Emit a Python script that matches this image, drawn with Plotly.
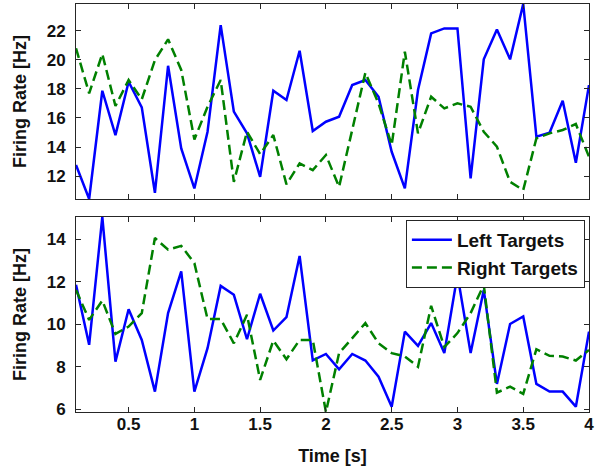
import plotly.graph_objects as go
from plotly.subplots import make_subplots

time_s = [round(0.1 * i, 1) for i in range(1, 41)]

top_left = [12.76, 10.42, 17.87, 14.82, 18.49, 16.73, 10.85, 19.59, 13.9, 11.15,
            15.05, 22.39, 16.43, 14.94, 11.95, 17.87, 17.23, 20.62, 15.1, 15.74,
            16.08, 18.26, 18.61, 17.46, 13.67, 11.15, 17.92, 21.82, 22.16, 22.16,
            11.84, 20.03, 22.09, 20.03, 23.84, 14.71, 14.98, 17.18, 12.92, 18.26]
top_right = [20.79, 17.69, 20.4, 16.82, 18.61, 17.28, 19.98, 21.41, 19.3, 14.52,
             16.77, 18.61, 11.6, 15.05, 13.51, 14.82, 11.43, 12.87, 12.41, 13.45,
             11.26, 15.3, 19.11, 17.0, 14.13, 20.56, 14.94, 17.46, 16.66, 17.0,
             16.77, 15.05, 14.02, 11.6, 11.04, 14.59, 14.94, 15.17, 15.58, 13.33]

bot_left = [11.85, 9.03, 15.04, 8.24, 10.7, 9.26, 6.83, 10.52, 12.48, 6.83,
            8.87, 11.8, 11.38, 9.29, 11.43, 9.7, 10.33, 13.21, 8.3, 8.6,
            7.88, 8.6, 8.29, 7.53, 6.12, 9.65, 8.98, 10.05, 8.64, 12.32,
            8.64, 11.61, 7.19, 10.01, 10.36, 7.19, 6.83, 6.83, 6.12, 9.65]
bot_right = [11.61, 10.2, 11.11, 9.54, 9.89, 10.52, 14.05, 13.5, 13.68, 12.87,
             10.24, 10.24, 9.1, 10.44, 7.38, 9.23, 8.35, 9.26, 9.26, 5.87,
             8.64, 9.34, 10.05, 9.1, 8.64, 8.48, 8.0, 10.86, 8.92, 9.58,
             10.52, 11.85, 6.78, 7.06, 6.72, 8.82, 8.51, 8.48, 8.29, 8.79]

top_yticks = [12, 14, 16, 18, 20, 22]
bot_yticks = [6, 8, 10, 12, 14]
x_ticks = [0.5, 1, 1.5, 2, 2.5, 3, 3.5, 4]
x_ticklabels = ["0.5", "1", "1.5", "2", "2.5", "3", "3.5", "4"]

BLUE = "#0000ff"
GREEN = "#008000"
FONT = "Liberation Sans, Arial, sans-serif"
TXT = "#111111"

fig = make_subplots(rows=2, cols=1, vertical_spacing=0.044)

fig.add_trace(go.Scatter(x=time_s, y=top_left, mode="lines", showlegend=False,
                         line=dict(color=BLUE, width=2.5)), row=1, col=1)
fig.add_trace(go.Scatter(x=time_s, y=top_right, mode="lines", showlegend=False,
                         line=dict(color=GREEN, width=2.5, dash="10px,5px")), row=1, col=1)
fig.add_trace(go.Scatter(x=time_s, y=bot_left, mode="lines", name="Left Targets",
                         line=dict(color=BLUE, width=2.5)), row=2, col=1)
fig.add_trace(go.Scatter(x=time_s, y=bot_right, mode="lines", name="Right Targets",
                         line=dict(color=GREEN, width=2.5, dash="10px,5px")), row=2, col=1)

axis_common = dict(showline=True, linecolor="#262626", linewidth=1, mirror="ticks",
                   ticks="inside", ticklen=5, tickcolor="#262626", showgrid=False,
                   zeroline=False, automargin=False,
                   tickfont=dict(family=FONT, size=17, color=TXT, weight="bold"))

top_all = top_left + top_right
bot_all = bot_left + bot_right

title_font = dict(family=FONT, size=18, color=TXT, weight="bold")

fig.update_xaxes(**axis_common, range=[min(time_s), max(time_s)],
                 tickvals=x_ticks, ticktext=x_ticklabels, ticklabelstandoff=-3)
fig.update_xaxes(showticklabels=False, row=1, col=1)
fig.update_xaxes(title=dict(text="Time [s]", font=title_font), row=2, col=1)
fig.update_yaxes(**axis_common, ticklabelstandoff=6)
fig.update_yaxes(range=[min(top_all), max(top_all)], tickvals=top_yticks,
                 title=dict(text="Firing Rate [Hz]", font=title_font), row=1, col=1)
fig.update_yaxes(range=[min(bot_all), max(bot_all)], tickvals=bot_yticks,
                 title=dict(text="Firing Rate [Hz]", font=title_font), row=2, col=1)

fig.update_layout(
    width=602, height=467,
    margin=dict(l=76, r=13, t=4, b=55),
    paper_bgcolor="white", plot_bgcolor="white",
    font=dict(family=FONT, size=17, color=TXT),
    legend=dict(x=0.992, y=0.4706, xanchor="right", yanchor="top",
                bgcolor="white", bordercolor="#262626", borderwidth=1,
                font=dict(family=FONT, size=19, color=TXT, weight="bold"),
                itemwidth=40, tracegroupgap=0),
)

fig.write_html("out.html", config={"displayModeBar": False},
               post_script="document.body.style.margin='0';document.body.style.padding='0';")
